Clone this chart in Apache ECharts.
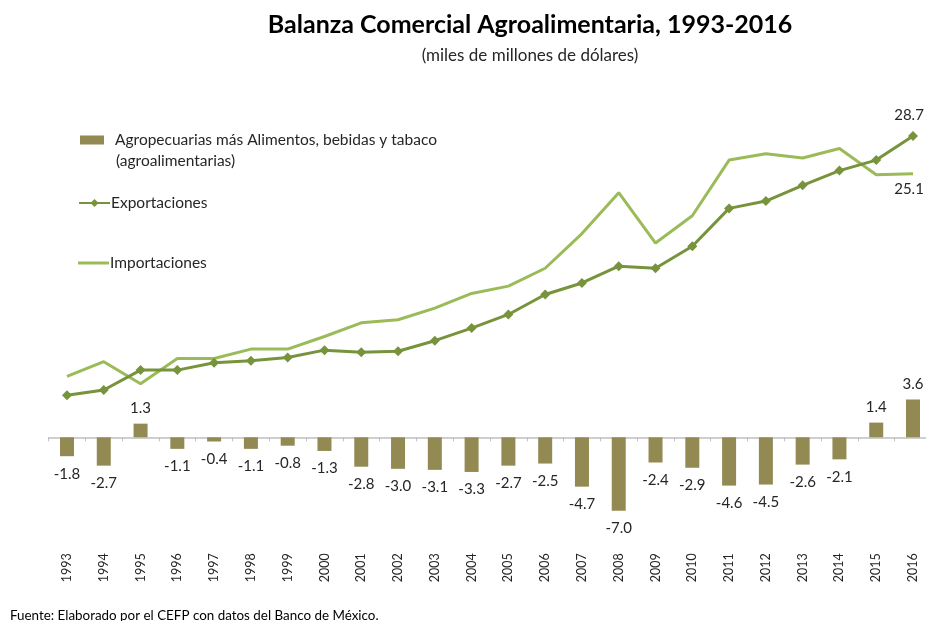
<!DOCTYPE html>
<html>
<head>
<meta charset="utf-8">
<script src="https://cdn.jsdelivr.net/npm/echarts@6/dist/echarts.min.js"></script>
<style>html,body{margin:0;padding:0;background:#fff}#c{width:926px;height:621px}</style>
</head>
<body>
<div id="c"></div>
<script>
const years = ['1993','1994','1995','1996','1997','1998','1999','2000','2001','2002','2003','2004','2005','2006','2007','2008','2009','2010','2011','2012','2013','2014','2015','2016'];
const balanza = [-1.8,-2.7,1.3,-1.1,-0.4,-1.1,-0.8,-1.3,-2.8,-3.0,-3.1,-3.3,-2.7,-2.5,-4.7,-7.0,-2.4,-2.9,-4.6,-4.5,-2.6,-2.1,1.4,3.6];
const exportaciones = [4.0,4.5,6.4,6.4,7.1,7.3,7.6,8.3,8.1,8.2,9.2,10.4,11.7,13.6,14.7,16.3,16.1,18.2,21.8,22.5,24.0,25.4,26.4,28.7];
const importaciones = [5.8,7.2,5.1,7.5,7.5,8.4,8.4,9.6,10.9,11.2,12.3,13.7,14.4,16.1,19.4,23.3,18.5,21.1,26.4,27.0,26.6,27.5,25.0,25.1];

const FONT = 'Lato';
const chart = echarts.init(document.getElementById('c'), null, {renderer:'canvas'});
const lastLabel = (arr, pos) => arr.map((v,i) => i === arr.length-1
  ? {value:v, label:{show:true, position:pos, distance:8, offset:[-4,0], color:'#262626', fontSize:15, fontFamily:FONT}}
  : v);

chart.setOption({
  animation:false,
  backgroundColor:'#fff',
  title:[
    {text:'Balanza Comercial Agroalimentaria, 1993-2016', left:525, top:7, textAlign:'center',
     textStyle:{fontFamily:FONT, fontWeight:'bold', fontSize:25, color:'#000'}},
    {text:'(miles de millones de dólares)', left:525, top:42, textAlign:'center',
     textStyle:{fontFamily:FONT, fontWeight:'normal', fontSize:17, color:'#262626'}},
    {text:'Fuente: Elaborado por el CEFP con datos del Banco de México.', left:5, top:604,
     textStyle:{fontFamily:FONT, fontWeight:'normal', fontSize:13.4, color:'#000'}}
  ],
  legend:[
    {data:['Agropecuarias más Alimentos, bebidas y tabaco'], left:80, top:132, padding:0, itemWidth:24, itemHeight:9,
     icon:'rect', textStyle:{fontFamily:FONT, fontSize:15.5, color:'#262626', padding:[0,0,0,6]}},
    {data:['Exportaciones'], left:78, top:195, padding:0, itemWidth:31, itemHeight:10,
     textStyle:{fontFamily:FONT, fontSize:15.5, color:'#262626', padding:[0,0,0,-4]}},
    {data:[{name:'Importaciones', icon:'rect'}], left:78, top:255, padding:0, itemWidth:31, itemHeight:3,
     textStyle:{fontFamily:FONT, fontSize:15.5, color:'#262626', padding:[0,0,0,-4]}}
  ],
  graphic:[
    {type:'text', left:116, top:153, style:{text:'(agroalimentarias)', font:'15.5px Lato', fill:'#262626'}}
  ],
  grid:{left:48.6, right:-5.4, top:122.3, bottom:78.7, outerBoundsMode:'none', containLabel:false},
  xAxis:{
    type:'category', data:years,
    axisLine:{onZero:true, lineStyle:{color:'#bfbfbf', width:1.5}},
    axisTick:{show:true, length:4, lineStyle:{color:'#bfbfbf'}},
    axisLabel:{rotate:90, margin:11, fontFamily:FONT, fontSize:12.5, color:'#262626'}
  },
  yAxis:{type:'value', min:-10, max:30, interval:10, show:false, splitLine:{show:false}},
  series:[
    {name:'Agropecuarias más Alimentos, bebidas y tabaco', type:'bar', barWidth:14,
     data: balanza.map(v => v < 0 ? {value:v, label:{position:'bottom', distance:10}} : v),
     itemStyle:{color:'#938953'},
     label:{show:true, position:'top', distance:8, fontFamily:FONT, fontSize:15, color:'#262626',
       formatter:p => p.value.toFixed(1)}},
    {name:'Importaciones', type:'line', data:lastLabel(importaciones,'bottom'), showSymbol:true, symbol:'circle', symbolSize:0,
     lineStyle:{color:'#9bbb59', width:3}, itemStyle:{color:'#9bbb59'}},
    {name:'Exportaciones', type:'line', data:lastLabel(exportaciones,'top'), symbol:'diamond', symbolSize:10,
     lineStyle:{color:'#77933c', width:3}, itemStyle:{color:'#77933c'}}
  ]
});
</script>
</body>
</html>
